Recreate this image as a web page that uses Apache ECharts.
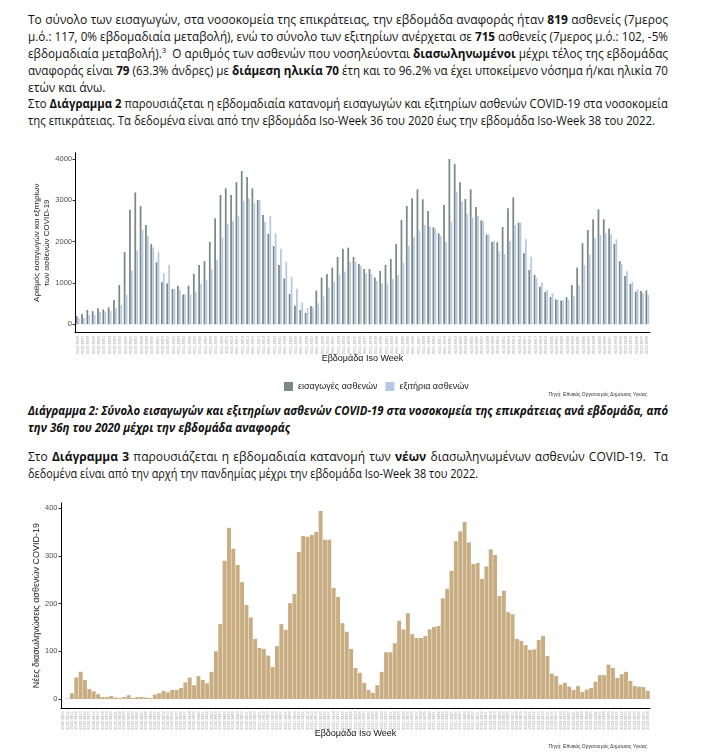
<!DOCTYPE html>
<html><head><meta charset="utf-8">
<script src="https://cdn.jsdelivr.net/npm/echarts@6/dist/echarts.min.js"></script>
<style>
html,body{margin:0;padding:0;background:#fff;width:716px;height:755px;overflow:hidden;position:relative;}
.ln{position:absolute;left:28px;white-space:nowrap;font-family:'Open Sans','Noto Sans',sans-serif;font-size:12px;line-height:17px;color:#111;transform-origin:0 50%;}
.ln b{font-weight:700;}
.cap{font-style:italic;font-weight:700;}
sup{font-size:8px;line-height:0;vertical-align:5px;}
#c1{position:absolute;left:0;top:140px;width:716px;height:260px;}
#c2{position:absolute;left:0;top:490px;width:716px;height:265px;}
</style></head><body>
<div class="ln" data-w="640" style="top:11px">Το σύνολο των εισαγωγών, στα νοσοκομεία της επικράτειας, την εβδομάδα αναφοράς ήταν <b>819</b> ασθενείς (7μερος</div>
<div class="ln" data-w="640" style="top:28px">μ.ό.: 117, 0% εβδομαδιαία μεταβολή), ενώ το σύνολο των εξιτηρίων ανέρχεται σε <b>715</b> ασθενείς (7μερος μ.ό.: 102, -5%</div>
<div class="ln" data-w="640" style="top:45px">εβδομαδιαία μεταβολή).<sup>3</sup> &nbsp;Ο αριθμός των ασθενών που νοσηλεύονται <b>διασωληνωμένοι</b> μέχρι τέλος της εβδομάδας</div>
<div class="ln" data-w="640" style="top:62px">αναφοράς είναι <b>79</b> (63.3% άνδρες) με <b>διάμεση ηλικία 70</b> έτη και το 96.2% να έχει υποκείμενο νόσημα ή/και ηλικία 70</div>
<div class="ln" style="top:79px">ετών και άνω.</div>
<div class="ln" data-w="640" style="top:95px">Στο <b>Διάγραμμα 2</b> παρουσιάζεται η εβδομαδιαία κατανομή εισαγωγών και εξιτηρίων ασθενών COVID-19 στα νοσοκομεία</div>
<div class="ln" data-w="627" style="top:112px">της επικράτειας. Τα δεδομένα είναι από την εβδομάδα Iso-Week 36 του 2020 έως την εβδομάδα Iso-Week 38 του 2022.</div>
<div class="ln cap" data-w="640" style="top:402px">Διάγραμμα 2: Σύνολο εισαγωγών και εξιτηρίων ασθενών COVID-19 στα νοσοκομεία της επικράτειας ανά εβδομάδα, από</div>
<div class="ln cap" data-w="262" style="top:419px">την 36η του 2020 μέχρι την εβδομάδα αναφοράς</div>
<div class="ln" data-w="640" style="top:448px">Στο <b>Διάγραμμα 3</b> παρουσιάζεται η εβδομαδιαία κατανομή των <b>νέων</b> διασωληνωμένων ασθενών COVID-19. &nbsp;Τα</div>
<div class="ln" data-w="450" style="top:465px">δεδομένα είναι από την αρχή την πανδημίας μέχρι την εβδομάδα Iso-Week 38 του 2022.</div>
<div id="c1"></div>
<div id="c2"></div>
<script>
// ---- Data ----
const maxWeek = {2020: 53, 2021: 52, 2022: 52};
function isoWeeks(y0, w0, y1, w1) {
  const out = []; let y = y0, w = w0;
  while (y < y1 || (y === y1 && w <= w1)) {
    out.push(y + '-W' + String(w).padStart(2, '0'));
    w++; if (w > maxWeek[y]) { w = 1; y++; }
  }
  return out;
}
const weeks1 = isoWeeks(2020, 36, 2022, 38);
const weeks2 = isoWeeks(2020, 9, 2022, 38);

const admissions = [200,250,350,320,390,360,410,590,950,1750,
  2770,3190,2860,2400,1940,1500,1020,990,855,930,
  720,935,1220,1435,1530,1990,2565,3130,3290,3130,
  3440,3710,3565,3290,3010,2645,2185,1895,1435,1105,
  735,450,345,275,445,815,1130,1220,1370,1630,
  1830,1855,1630,1460,1340,1340,1130,
  1290,1435,1580,1945,2525,2865,3050,3265,3025,2740,
  2345,2200,2885,4000,3880,3435,3030,3265,2840,2515,
  2175,1990,1985,2355,2805,3070,2460,1720,1315,1195,
  910,780,660,605,575,655,950,1370,1960,2280,
  2540,2780,2540,2320,1945,1530,1170,975,790,805,819];
const discharges = [150,150,220,230,300,300,330,390,470,710,
  1300,1780,2280,2140,1860,1760,1230,1440,855,830,
  725,710,790,975,1070,1330,1555,2100,2430,2500,
  2620,2985,3050,2930,3010,2480,2620,2200,1830,1510,
  1150,860,525,390,410,510,670,890,1030,1195,
  1275,1510,1515,1410,1235,1220,1055,
  990,990,1095,1195,1490,1895,2120,2265,2405,2365,
  2315,2135,2000,2485,3210,2970,2670,2580,2620,2500,
  2175,2015,1760,1700,2015,2405,2460,2065,1635,1115,
  1015,830,750,590,575,590,685,945,1435,1680,
  2080,2160,2200,2175,2055,1460,1290,1030,845,750,715];
const intubations = [0,1,12,45,57,40,21,16,10,4,4,
  6,3,2,4,8,2,4,4,3,2,
  9,12,17,14,19,19,23,35,45,29,
  48,40,33,57,100,157,290,359,315,281,
  245,197,171,126,107,105,91,67,111,157,
  145,201,220,308,342,340,344,350,394,334,
  334,233,214,159,141,105,65,55,34,19,
  13,29,
  57,98,98,117,164,146,180,136,128,128,
  132,146,151,153,211,231,269,331,352,371,
  328,283,285,252,278,314,302,216,227,182,
  178,126,122,113,103,104,124,132,90,53,
  48,30,34,26,19,27,15,20,23,36,
  50,50,72,65,44,52,57,38,27,26,
  25,17];
const ticks1 = [0, 1000, 2000, 3000, 4000];
const ticks2 = [0, 100, 200, 300, 400];

// ---- Text fitting ----
function fit() {
  document.querySelectorAll('.ln').forEach(el => {
    el.style.transform = ''; el.style.wordSpacing = '';
    const tw = parseFloat(el.dataset.w);
    if (!tw) return;
    const w = el.getBoundingClientRect().width;
    if (w > tw) el.style.transform = 'scaleX(' + (tw / w) + ')';
    else {
      const n = (el.textContent.match(/[ \u00a0]/g) || []).length;
      if (n) el.style.wordSpacing = ((tw - w) / n) + 'px';
    }
  });
}
fit();
if (document.fonts && document.fonts.ready) document.fonts.ready.then(fit);

// ---- Charts ----
const F = 'Liberation Sans, Arial, sans-serif';
const DARK = '#7b8984', LIGHT = '#b6c8e6', TAN = '#c9ad82';
const src = 'Πηγή: Εθνικός Οργανισμός Δημόσιας Υγείας';
const plain = v => String(v);

const c1 = echarts.init(document.getElementById('c1'));
c1.setOption({
  animation: false,
  grid: {left: 75, right: 66, top: 12.7, bottom: 67.3},
  legend: {left: 279, top: 237, itemWidth: 9, itemHeight: 9, itemGap: 8, icon: 'rect',
    textStyle: {fontSize: 9, color: '#222', fontFamily: F},
    data: ['εισαγωγές ασθενών', 'εξιτήρια ασθενών']},
  xAxis: {type: 'category', data: weeks1,
    axisLine: {onZero: false, lineStyle: {color: '#000', width: 1}},
    axisTick: {alignWithLabel: true, interval: 0, length: 2, lineStyle: {color: '#333', width: 0.5}},
    axisLabel: {interval: 0, rotate: 90, fontSize: 4, color: '#aaa', margin: 3, fontFamily: F},
    name: 'Εβδομάδα Iso Week', nameLocation: 'middle', nameGap: 21, nameMoveOverlap: false,
    nameTextStyle: {fontSize: 9, color: '#111', fontFamily: F}},
  yAxis: {type: 'value', min: -203, max: 4152, splitLine: {show: false},
    axisLine: {show: true, lineStyle: {color: '#000', width: 1}},
    axisTick: {show: true, length: 2.5, customValues: ticks1, lineStyle: {color: '#333'}},
    axisLabel: {customValues: ticks1, formatter: plain, fontSize: 7.5, color: '#4d4d4d', margin: 3, fontFamily: F},
    name: 'Αριθμός εισαγωγών και εξιτηρίων\nτων ασθενών COVID-19', nameLocation: 'middle', nameGap: 23, nameMoveOverlap: false,
    nameTextStyle: {fontSize: 8, lineHeight: 10, color: '#222', fontFamily: F}},
  series: [
    {type: 'bar', name: 'εισαγωγές ασθενών', data: admissions, itemStyle: {color: DARK}, barWidth: '33%', barGap: '10%'},
    {type: 'bar', name: 'εξιτήρια ασθενών', data: discharges, itemStyle: {color: LIGHT}, barWidth: '33%'}
  ],
  graphic: [{type: 'text', right: 69, top: 252, style: {text: src, fontSize: 5, fill: '#333', fontFamily: F}}]
});

const c2 = echarts.init(document.getElementById('c2'));
c2.setOption({
  animation: false,
  grid: {left: 61, right: 66, top: 13, bottom: 46.7},
  xAxis: {type: 'category', data: weeks2,
    axisLine: {onZero: false, lineStyle: {color: '#000', width: 1}},
    axisTick: {alignWithLabel: true, interval: 0, length: 2, lineStyle: {color: '#333', width: 0.5}},
    axisLabel: {interval: 0, rotate: 90, fontSize: 4, color: '#aaa', margin: 3, fontFamily: F},
    name: 'Εβδομάδα Iso Week', nameLocation: 'middle', nameGap: 21, nameMoveOverlap: false,
    nameTextStyle: {fontSize: 9, color: '#111', fontFamily: F}},
  yAxis: {type: 'value', min: -19.5, max: 411, splitLine: {show: false},
    axisLine: {show: true, lineStyle: {color: '#000', width: 1}},
    axisTick: {show: true, length: 2.5, customValues: ticks2, lineStyle: {color: '#333'}},
    axisLabel: {customValues: ticks2, formatter: plain, fontSize: 7.5, color: '#4d4d4d', margin: 3.5, fontFamily: F},
    name: 'Νέες διασωληνώσεις ασθενών COVID-19', nameLocation: 'middle', nameGap: 20, nameMoveOverlap: false,
    nameTextStyle: {fontSize: 9, color: '#222', fontFamily: F}},
  series: [
    {type: 'bar', name: 'Νέες διασωληνώσεις', data: intubations, itemStyle: {color: TAN}, barCategoryGap: '10%'}
  ],
  graphic: [{type: 'text', right: 69, top: 254, style: {text: src, fontSize: 5, fill: '#333', fontFamily: F}}]
});
</script>
</body></html>
